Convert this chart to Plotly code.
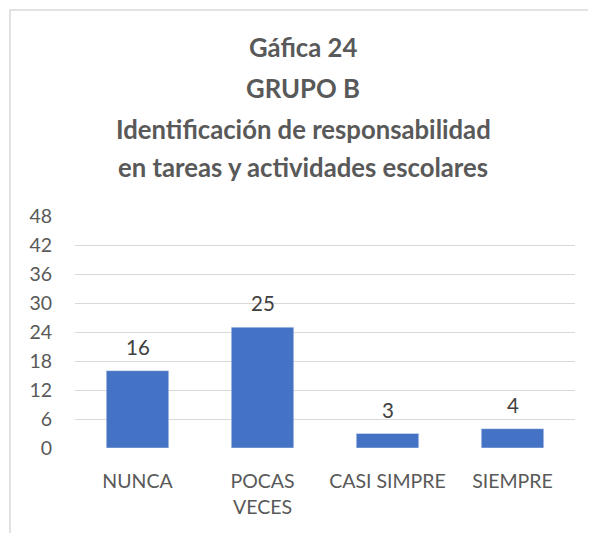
import plotly.graph_objects as go

categories = ["NUNCA", "POCAS<br>VECES", "CASI SIMPRE", "SIEMPRE"]
values = [16, 25, 3, 4]
tick_vals = [0, 6, 12, 18, 24, 30, 36, 42, 48]
title_lines = ["Gáfica 24", "GRUPO B", "Identificación de responsabilidad",
               "en tareas y actividades escolares"]

OFF = 8  # page body margin
W, H = 596 - OFF, 533 - OFF
# plot area in reference page pixels: x 75..575, y 216..448
L = 75 - OFF
R = W - (575 - OFF)
T = 216 - OFF
B = H - (448 - OFF)
pw, ph = W - L - R, H - T - B
FONT = "Lato"
GRAY = "#595959"

def px_x(p):
    return (p - OFF - L) / pw

def px_y(p):
    return (H - B - (p - OFF)) / ph

fig = go.Figure()
fig.add_trace(go.Bar(x=categories, y=values, marker=dict(color="#4472C4"),
                     hoverinfo="skip"))

annotations = []
for c, v in zip(categories, values):
    annotations.append(dict(x=c, y=v, xref="x", yref="y", text=str(v),
                            showarrow=False, yshift=24,
                            font=dict(family=FONT, size=20.5, color="#404040")))
title_y = [47, 88, 129, 167]
for t, yy in zip(title_lines, title_y):
    annotations.append(dict(x=px_x(303), y=px_y(yy), xref="paper", yref="paper",
                            text="<b>" + t + "</b>", showarrow=False,
                            xanchor="center", yanchor="middle",
                            font=dict(family=FONT, size=25.7, color=GRAY)))

fig.update_layout(
    width=W, height=H,
    margin=dict(l=L, r=R, t=T, b=B, pad=0),
    paper_bgcolor="white", plot_bgcolor="white",
    bargap=0.5, showlegend=False,
    annotations=annotations,
    shapes=[dict(type="rect", xref="paper", yref="paper",
                 x0=px_x(10), x1=px_x(640), y0=px_y(580), y1=px_y(10),
                 line=dict(color="#d9d9d9", width=1.5), layer="below")],
    xaxis=dict(showgrid=False, zeroline=False, showline=False,
               ticks="outside", ticklen=16, tickcolor="rgba(0,0,0,0)",
               tickfont=dict(family=FONT, size=19.5, color=GRAY)),
    yaxis=dict(range=[0, 48], tickvals=tick_vals, showgrid=True,
               gridcolor="#d9d9d9", gridwidth=1.3, zeroline=False,
               showline=False, ticks="outside", ticklen=18,
               tickcolor="rgba(0,0,0,0)",
               tickfont=dict(family=FONT, size=19.5, color=GRAY)),
)
fig.write_html("out.html")
